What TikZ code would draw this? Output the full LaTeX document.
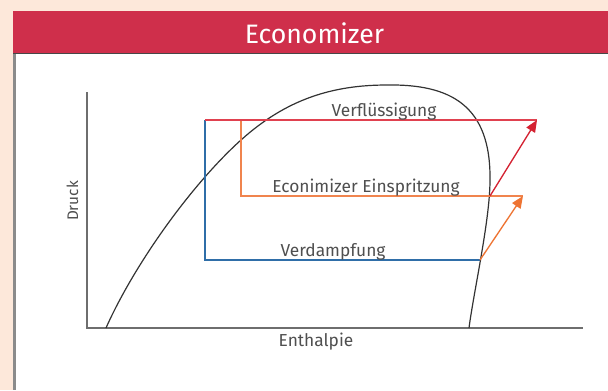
\documentclass[tikz,border=0pt]{standalone}
\usepackage{fontspec}
\setmainfont{Fira Sans}
\usetikzlibrary{arrows.meta}
\definecolor{bgpeach}{HTML}{FDE8DA}
\definecolor{bandred}{HTML}{CF2F4B}
\definecolor{txtgray}{HTML}{4F4F4F}
\definecolor{axisgray}{HTML}{6E6E6E}
\definecolor{curvegray}{HTML}{333333}
\definecolor{bluel}{HTML}{2F6EA8}
\definecolor{redl}{HTML}{E0414F}
\definecolor{redarrow}{HTML}{D42232}
\definecolor{orangel}{HTML}{F0844E}
\definecolor{orangearrow}{HTML}{EE7433}
\tikzset{
  lbl/.style={text=txtgray,font=\fontsize{13}{15}\selectfont,inner sep=0pt,anchor=base},
  axisline/.style={draw=axisgray,line width=1.5pt},
  procline/.style={line width=1pt},
  arr/.style={line width=1pt,-{Triangle[length=9pt,width=7.5pt]}}
}
\begin{document}
\begin{tikzpicture}[x=0.75pt,y=-0.75pt]
\useasboundingbox (0,0) rectangle (608,390);
\fill[bgpeach] (0,0) rectangle (608,390);
\fill[white] (13,53) rectangle (608,390);
\fill[axisgray!80] (13,53) rectangle (15.5,390);
\fill[bandred] (13,11) rectangle (608,53);
\draw[curvegray!90,line width=1pt] (13,53.5) -- (608,53.5);
\node[text=white,font=\fontsize{20}{24}\selectfont,inner sep=0pt] (title) at (314.5,33) {Economizer};
% axes
\coordinate (O) at (87,328);
\coordinate (Ytop) at (87,92);
\coordinate (Xend) at (583,328);
\draw[axisline] (Ytop) -- (O) -- (Xend);
% saturation curve
\draw[curvegray,line width=0.9pt] (106,328) .. controls (134,265) and (191,185) .. (241,140)
  .. controls (286,99.5) and (332,85) .. (387,85)
  .. controls (450,84) and (491,105) .. (490,180)
  .. controls (490,220) and (474,290) .. (469,328);
% process points
\coordinate (B1) at (205,260);
\coordinate (B2) at (480,260);
\coordinate (T1) at (205,120);
\coordinate (T2) at (537,120);
\coordinate (E1) at (241,120);
\coordinate (E2) at (241,196);
\coordinate (E3) at (523,196);
\coordinate (E4) at (490,196);
\draw[procline,bluel] (T1) -- (B1) -- (B2);
\draw[procline,orangel] (E1) -- (E2) -- (E3);
\draw[procline,redl] (T1) -- (T2);
\draw[arr,redarrow] (E4) -- (T2);
\draw[arr,orangearrow] (B2) -- (E3);
% labels
\node[lbl] (verf) at (384,116) {Verflüssigung};
\node[lbl] (econ) at (366,192.5) {Econimizer Einspritzung};
\node[lbl] (verd) at (333,256.5) {Verdampfung};
\node[lbl] (enth) at (316,346.5) {Enthalpie};
\node[lbl,rotate=90,font=\fontsize{11.5}{14}\selectfont] (druck) at (78,201) {Druck};
\end{tikzpicture}
\end{document}
